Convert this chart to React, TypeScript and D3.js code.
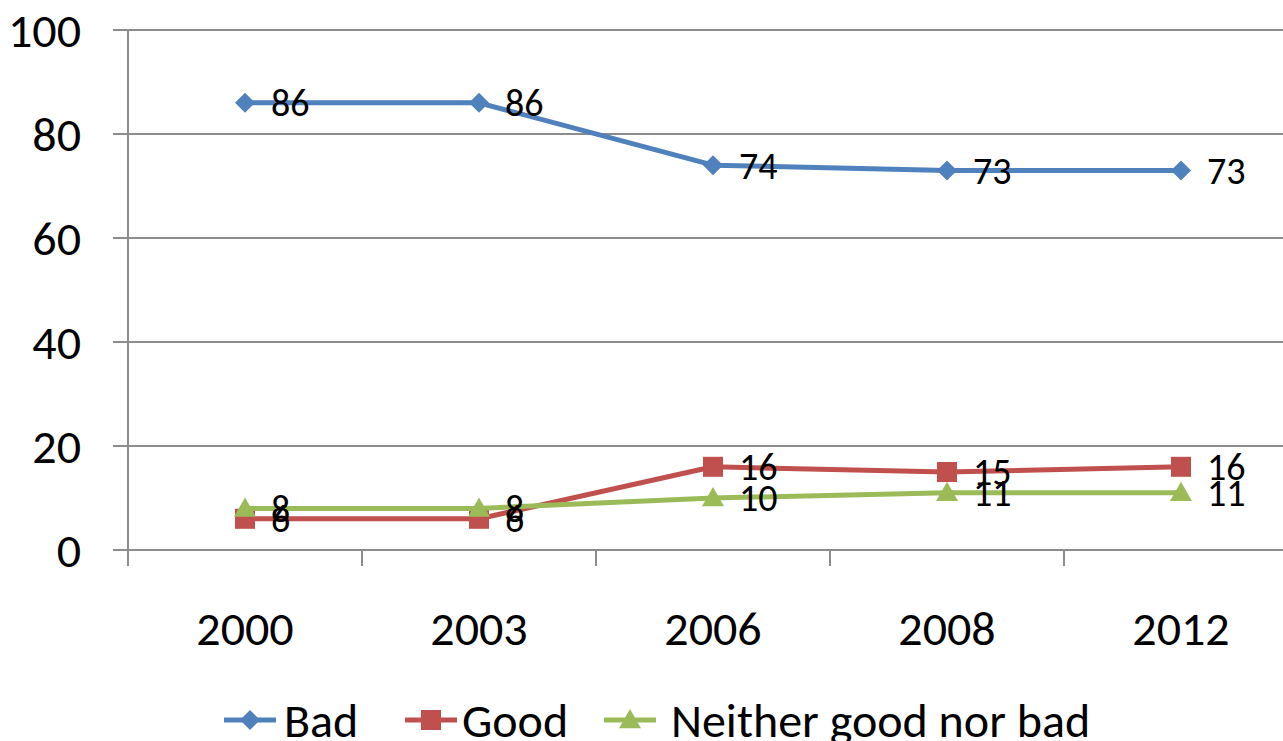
import React from "react";
import * as d3 from "d3";

const categories = ["2000", "2003", "2006", "2008", "2012"];
const badValues = [86, 86, 74, 73, 73];
const goodValues = [6, 6, 16, 15, 16];
const neitherValues = [8, 8, 10, 11, 11];
const yTicks = [0, 20, 40, 60, 80, 100];

const seriesList = [
  { name: "Bad", values: badValues, color: "#4F81BD", marker: "diamond" },
  { name: "Good", values: goodValues, color: "#C0504D", marker: "square" },
  { name: "Neither good nor bad", values: neitherValues, color: "#9BBB59", marker: "triangle" },
];

const FONT = "Carlito, 'Liberation Sans Narrow', 'Liberation Sans', sans-serif";

function Marker({ type, x, y, color }: { type: string; x: number; y: number; color: string }) {
  if (type === "diamond") {
    const s = 10;
    return <path d={`M${x},${y - s}L${x + s},${y}L${x},${y + s}L${x - s},${y}Z`} fill={color} />;
  }
  if (type === "square") {
    const s = 10;
    return <rect x={x - s} y={y - s} width={2 * s} height={2 * s} fill={color} />;
  }
  const s = 11;
  return <path d={`M${x},${y - s}L${x + s},${y + s * 0.75}L${x - s},${y + s * 0.75}Z`} fill={color} />;
}

export default function App() {
  const width = 1283;
  const height = 741;
  const left = 128;
  const top = 30;
  const bottom = 550;
  const band = 234;

  const x = d3.scaleBand<string>().domain(categories).range([left, left + band * categories.length]);
  const y = d3.scaleLinear().domain([0, 100]).range([bottom, top]);
  const cx = (c: string) => (x(c) as number) + x.bandwidth() / 2;

  const line = d3
    .line<number>()
    .x((_, i) => cx(categories[i]))
    .y((v) => y(v));

  const legendItems = [
    { lx: 224, tx: 284 },
    { lx: 405, tx: 462 },
    { lx: 604, tx: 671 },
  ];

  return (
    <svg width={width} height={height} style={{ position: "absolute", left: 0, top: 0 }} fontFamily={FONT}>
      <rect width={width} height={height} fill="#fff" />
      {yTicks.map((t) => (
        <g key={t}>
          <line x1={113} x2={width} y1={y(t)} y2={y(t)} stroke="#8c8c8c" strokeWidth={2} />
          <text x={81} y={y(t)} dy="0.35em" textAnchor="end" fontSize={48} fill="#000">
            {t}
          </text>
        </g>
      ))}
      <line x1={left} x2={left} y1={top} y2={bottom + 16} stroke="#8c8c8c" strokeWidth={2} />
      {categories.map((c, i) => (
        <g key={c}>
          {i > 0 && (
            <line x1={x(c) as number} x2={x(c) as number} y1={bottom} y2={bottom + 16} stroke="#8c8c8c" strokeWidth={2} />
          )}
          <text x={cx(c)} y={628} dy="0.35em" textAnchor="middle" fontSize={48} fill="#000">
            {c}
          </text>
        </g>
      ))}
      {seriesList.map((s) => (
        <g key={s.name}>
          <path d={line(s.values) || ""} fill="none" stroke={s.color} strokeWidth={5} strokeLinejoin="round" />
          {s.values.map((v, i) => (
            <Marker key={i} type={s.marker} x={cx(categories[i])} y={y(v)} color={s.color} />
          ))}
        </g>
      ))}
      {seriesList.map((s) => (
        <g key={s.name + "lbl"}>
          {s.values.map((v, i) => (
            <text key={i} x={cx(categories[i]) + 26} y={y(v)} dy="0.35em" fontSize={38} fill="#000">
              {v}
            </text>
          ))}
        </g>
      ))}
      {seriesList.map((s, i) => {
        const L = legendItems[i];
        const my = 720;
        const mid = L.lx + 24;
        return (
          <g key={s.name + "leg"}>
            <line x1={L.lx} x2={L.lx + 52} y1={my} y2={my} stroke={s.color} strokeWidth={5} />
            <Marker type={s.marker} x={mid + 2} y={my} color={s.color} />
            <text x={L.tx} y={my} dy="0.35em" fontSize={48} fill="#000">
              {s.name}
            </text>
          </g>
        );
      })}
    </svg>
  );
}
